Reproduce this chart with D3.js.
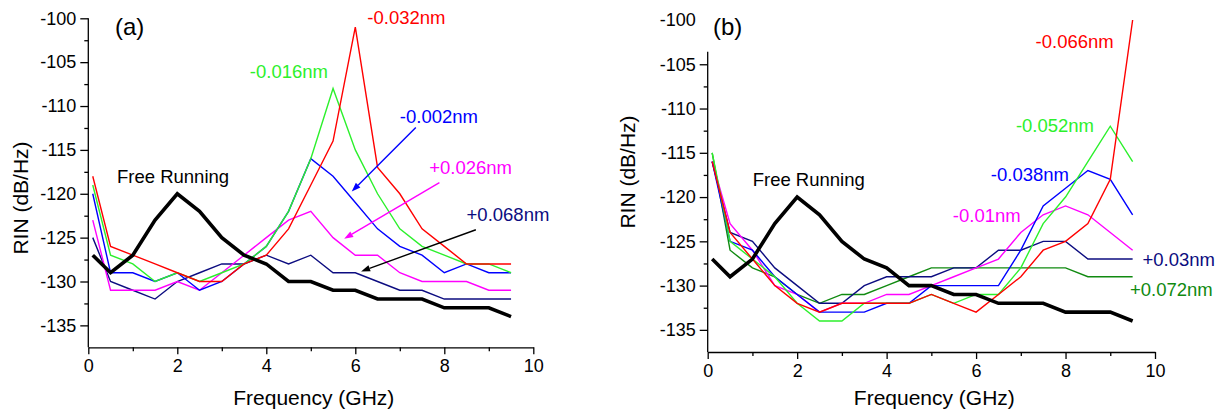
<!DOCTYPE html>
<html>
<head>
<meta charset="utf-8">
<script src="https://cdn.jsdelivr.net/npm/d3@7/dist/d3.min.js"></script>
<style>
  html, body { margin: 0; padding: 0; background: #fff; }
  svg { display: block; }
  text { font-family: Arial, "Liberation Sans", sans-serif; }
</style>
</head>
<body>
<script>
// ---------------- DATA ----------------
const freq = [0.1, 0.5, 1, 1.5, 2, 2.5, 3, 3.5, 4, 4.5, 5, 5.5, 6, 6.5, 7, 7.5, 8, 8.5, 9, 9.5];

const freeRunning = [-127, -129, -127, -123, -120, -122, -125, -127, -128, -130, -130, -131, -131, -132, -132, -132, -133, -133, -133, -134];

// Panel (a)
const a_m0032 = [-118, -126, -127, -128, -129, -130, -130, -128, -127, -124, -119, -114, -101, -117, -120, -124, -126, -128, -128, -128];
const a_m0016 = [-119, -127, -128, -130, -129, -130, -129, -128, -126, -122, -116, -108, -115, -120, -124, -126, -127, -128, -128, -129];
const a_m0002 = [-120, -129, -129, -130, -129, -131, -130, -128, -126, -122, -116, -118, -121, -124, -126, -127, -129, -128, -129, -129];
const a_p0026 = [-123, -131, -131, -131, -130, -131, -129, -127, -125, -123, -122, -125, -127, -127, -129, -130, -130, -130, -131, -131];
const a_p0068 = [-125, -130, -131, -132, -130, -129, -128, -128, -127, -128, -127, -129, -129, -130, -131, -131, -132, -132, -132, -132];

// Panel (b)
const b_p0072 = [-115, -126, -128, -129, -131, -132, -131, -131, -130, -129, -128, -128, -128, -128, -128, -128, -128, -129, -129, -129];
const b_p003  = [-116, -124, -125, -128, -130, -132, -132, -130, -129, -129, -129, -128, -128, -126, -126, -125, -125, -127, -127, -127];
const b_m001  = [-116, -123, -126, -130, -131, -133, -132, -132, -131, -131, -130, -129, -128, -127, -124, -122, -121, -122, -124, -126];
const b_m0038 = [-116, -125, -126, -129, -131, -133, -133, -133, -132, -132, -130, -130, -130, -130, -126, -121, -119, -117, -118, -122];
const b_m0052 = [-115, -125, -127, -129, -132, -134, -134, -132, -132, -132, -131, -132, -131, -131, -128, -123, -120, -116, -112, -116];
const b_m0066 = [-116, -124, -127, -130, -132, -133, -132, -132, -132, -132, -131, -132, -133, -131, -129, -126, -125, -123, -118, -100];

const xTicks = [0, 2, 4, 6, 8, 10];
const xMinor = [1, 3, 5, 7, 9];
const yTicks = [-135, -130, -125, -120, -115, -110, -105, -100];
const yMinor = [-132.5, -127.5, -122.5, -117.5, -112.5, -107.5, -102.5];

// annotation text: [label, x (GHz), y (dB/Hz)]
const a_labels = [
  ["-0.032nm", 6.27, -100.7, "red"],
  ["-0.016nm", 3.63, -106.85, "lime"],
  ["-0.002nm", 7.00, -111.9, "blue"],
  ["+0.026nm", 7.66, -117.75, "magenta"],
  ["+0.068nm", 8.50, -123.1, "navy"],
  ["Free Running", 0.645, -118.75, "black"]
];
// arrows: [x1, y1, x2, y2, colour key]
const a_arrows = [
  [7.36, -112.46, 5.92, -119.74, "blue"],
  [7.89, -118.72, 5.75, -125.13, "magenta"],
  [8.71, -124.10, 6.13, -128.85, "black"]
];
const b_labels = [
  ["-0.066nm", 7.33, -103.2, "red"],
  ["-0.052nm", 6.89, -112.66, "lime"],
  ["-0.038nm", 6.33, -118.16, "blue"],
  ["-0.01nm", 5.48, -122.86, "magenta"],
  ["+0.03nm", 9.72, -127.82, "navy"],
  ["+0.072nm", 9.44, -131.21, "dgreen"],
  ["Free Running", 1.006, -118.8, "black"]
];

const colors = {
  red: "#ff0000", lime: "#2cf02c", blue: "#0000ff", magenta: "#ff00ff",
  navy: "#0c0c80", dgreen: "#108a10", black: "#000000"
};

// ---------------- DRAW ----------------
const W = 1225, H = 413;
const svg = d3.select("body").append("svg").attr("width", W).attr("height", H);

function drawPanel(cfg) {
  const x = d3.scaleLinear().domain([0, 10]).range(cfg.xr);
  const y = d3.scaleLinear().domain([-137.5, -100]).range(cfg.yr);
  const g = svg.append("g");

  // x axis
  const gx = g.append("g").attr("transform", `translate(0,${cfg.yr[0]})`)
    .call(d3.axisBottom(x).tickValues(xTicks).tickSize(7).tickPadding(5).tickSizeOuter(0).tickFormat(d => String(d)));
  g.append("g").attr("transform", `translate(0,${cfg.yr[0]})`)
    .call(d3.axisBottom(x).tickValues(xMinor).tickSize(4).tickFormat(""))
    .call(s => s.select(".domain").remove());

  // y axis
  const yMajor = cfg.showTop ? yTicks : yTicks;
  const gy = g.append("g").attr("transform", `translate(${cfg.xr[0]},0)`)
    .call(d3.axisLeft(y).tickValues(yMajor).tickSize(8).tickPadding(4).tickSizeOuter(0).tickFormat(d => String(d)));
  gy.select(".domain").remove();
  if (!cfg.showTop) {
    gy.selectAll(".tick").filter(d => d === -100).select("line").remove();
  }
  g.append("g").attr("transform", `translate(${cfg.xr[0]},0)`)
    .call(d3.axisLeft(y).tickValues(yMinor.filter(v => v <= cfg.yAxisTop)).tickSize(4).tickFormat(""))
    .call(s => s.select(".domain").remove());
  g.append("line")
    .attr("x1", cfg.xr[0]).attr("x2", cfg.xr[0])
    .attr("y1", y(cfg.yAxisTop)).attr("y2", cfg.yr[0])
    .attr("stroke", "#000").attr("stroke-width", 1.3);

  g.selectAll(".tick line").attr("stroke-width", 1.3);
  g.selectAll(".domain").attr("stroke-width", 1.3);
  g.selectAll(".tick text").attr("font-size", 18).attr("fill", "#000")
    .attr("font-family", 'Arial, "Liberation Sans", sans-serif');

  // axis titles
  g.append("text")
    .attr("x", (cfg.xr[0] + cfg.xr[1]) / 2 + 3).attr("y", 405)
    .attr("text-anchor", "middle").attr("font-size", 21)
    .text("Frequency (GHz)");
  g.append("text")
    .attr("transform", `translate(${cfg.ylabX},${cfg.ylabY}) rotate(-90)`)
    .attr("text-anchor", "middle").attr("font-size", 21)
    .text("RIN (dB/Hz)");

  // panel letter
  g.append("text")
    .attr("x", cfg.letterX).attr("y", 35)
    .attr("font-family", '"Times New Roman", "Liberation Serif", serif')
    .attr("font-size", 24)
    .text(cfg.letter);

  // lines
  const line = d3.line().x((d, i) => x(freq[i])).y(d => y(d));
  cfg.series.forEach(s => {
    g.append("path").datum(s.values)
      .attr("fill", "none")
      .attr("stroke", colors[s.color])
      .attr("stroke-width", s.width || 1.4)
      .attr("stroke-linejoin", "miter")
      .attr("d", line);
  });

  // arrows
  (cfg.arrows || []).forEach(a => {
    const x1 = x(a[0]), y1 = y(a[1]), x2 = x(a[2]), y2 = y(a[3]);
    const ang = Math.atan2(y2 - y1, x2 - x1);
    const L = 9, Wd = 3.2;
    const bx = x2 - L * Math.cos(ang), by = y2 - L * Math.sin(ang);
    g.append("line").attr("x1", x1).attr("y1", y1).attr("x2", bx).attr("y2", by)
      .attr("stroke", colors[a[4]]).attr("stroke-width", 1.4);
    const px = -Math.sin(ang) * Wd, py = Math.cos(ang) * Wd;
    g.append("path")
      .attr("d", `M${x2},${y2}L${bx + px},${by + py}L${bx - px},${by - py}Z`)
      .attr("fill", colors[a[4]]);
  });

  // labels
  cfg.labels.forEach(l => {
    g.append("text").attr("x", x(l[1])).attr("y", y(l[2]))
      .attr("font-size", 18.5).attr("fill", colors[l[3]])
      .text(l[0]);
  });
}

drawPanel({
  xr: [88.3, 533.3], yr: [347.3, 18.3], yAxisTop: -100, showTop: true,
  ylabX: 27.5, ylabY: 198, letter: "(a)", letterX: 115,
  series: [
    { values: a_p0068, color: "navy" },
    { values: a_p0026, color: "magenta" },
    { values: a_m0002, color: "blue" },
    { values: a_m0016, color: "lime" },
    { values: a_m0032, color: "red" },
    { values: freeRunning, color: "black", width: 3.6 }
  ],
  arrows: a_arrows,
  labels: a_labels
});

drawPanel({
  xr: [707.7, 1155], yr: [352, 20], yAxisTop: -103.6, showTop: false,
  ylabX: 635, ylabY: 172, letter: "(b)", letterX: 713,
  series: [
    { values: b_p0072, color: "dgreen" },
    { values: b_p003, color: "navy" },
    { values: b_m001, color: "magenta" },
    { values: b_m0038, color: "blue" },
    { values: b_m0052, color: "lime" },
    { values: b_m0066, color: "red" },
    { values: freeRunning, color: "black", width: 3.6 }
  ],
  labels: b_labels
});
</script>
</body>
</html>
